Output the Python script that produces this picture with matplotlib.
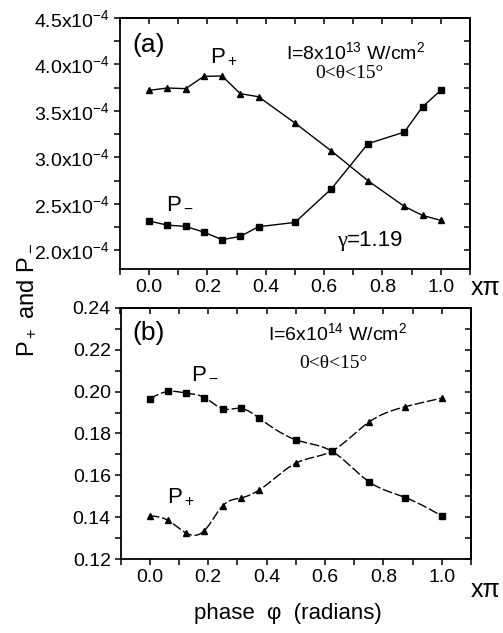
import numpy as np
import matplotlib
matplotlib.use("Agg")
import matplotlib.pyplot as plt
from matplotlib.ticker import MultipleLocator, FuncFormatter

plt.rcParams['font.family'] = ['Liberation Sans', 'DejaVu Sans']
plt.rcParams['mathtext.fontset'] = 'custom'
plt.rcParams['mathtext.rm'] = 'Liberation Sans'
plt.rcParams['mathtext.it'] = 'Liberation Sans:italic'
plt.rcParams['mathtext.bf'] = 'Liberation Sans:bold'

# ---- data (phase in units of pi) ----
phase_a = [0, 1/16, 2/16, 3/16, 4/16, 5/16, 6/16, 8/16, 10/16, 12/16, 14/16, 15/16, 1.0]
pplus_a = [3.722, 3.747, 3.740, 3.872, 3.876, 3.686, 3.653, 3.370, 3.069, 2.750, 2.473, 2.376, 2.323]  # x1e-4
pminus_a = [2.316, 2.272, 2.258, 2.197, 2.115, 2.151, 2.255, 2.301, 2.663, 3.148, 3.273, 3.546, 3.722]  # x1e-4

phase_b = [0, 1/16, 2/16, 3/16, 4/16, 5/16, 6/16, 8/16, 10/16, 12/16, 14/16, 1.0]
pminus_b = [0.1966, 0.2001, 0.1993, 0.1972, 0.1918, 0.1920, 0.1873, 0.1770, 0.1714, 0.1570, 0.1494, 0.1406]
pplus_b = [0.1407, 0.1385, 0.1324, 0.1336, 0.1455, 0.1492, 0.1530, 0.1658, 0.1717, 0.1854, 0.1928, 0.1969]


def natural_spline(x, y, n=500):
    x = np.asarray(x, float)
    y = np.asarray(y, float)
    k = len(x)
    h = np.diff(x)
    A = np.zeros((k, k))
    r = np.zeros(k)
    A[0, 0] = 1
    A[-1, -1] = 1
    for i in range(1, k - 1):
        A[i, i - 1] = h[i - 1]
        A[i, i] = 2 * (h[i - 1] + h[i])
        A[i, i + 1] = h[i]
        r[i] = 6 * ((y[i + 1] - y[i]) / h[i] - (y[i] - y[i - 1]) / h[i - 1])
    M = np.linalg.solve(A, r)
    xs = np.linspace(x[0], x[-1], n)
    idx = np.clip(np.searchsorted(x, xs) - 1, 0, k - 2)
    x0, x1 = x[idx], x[idx + 1]
    hh = x1 - x0
    a = (x1 - xs) / hh
    b = (xs - x0) / hh
    ys = (a * y[idx] + b * y[idx + 1]
          + ((a ** 3 - a) * M[idx] + (b ** 3 - b) * M[idx + 1]) * hh ** 2 / 6)
    return xs, ys


W, H = 503, 633
fig = plt.figure(figsize=(W / 100, H / 100), dpi=100)


def fx(px):
    return px / W


def fy(py):
    return 1 - py / H


ax1 = fig.add_axes([fx(120), fy(269), fx(470) - fx(120), fy(18) - fy(269)])
ax2 = fig.add_axes([fx(120.5), fy(559), fx(471) - fx(120.5), fy(308) - fy(559)])

TICK_FS = 14


def style_axis(ax, ymajor, yminor, fmt):
    for s in ax.spines.values():
        s.set_linewidth(1.3)
    ax.set_xlim(-0.1, 1.1)
    ax.xaxis.set_major_locator(MultipleLocator(0.2))
    ax.xaxis.set_minor_locator(MultipleLocator(0.1))
    ax.xaxis.set_major_formatter(FuncFormatter(lambda v, p: f"{v:.1f}"))
    ax.yaxis.set_major_locator(MultipleLocator(ymajor))
    ax.yaxis.set_minor_locator(MultipleLocator(yminor))
    ax.yaxis.set_major_formatter(FuncFormatter(fmt))
    ax.tick_params(which='both', direction='out', length=4, width=1.1,
                   top=False, right=False, labelsize=TICK_FS, pad=3)
    sx = ax.secondary_xaxis('top')
    sx.xaxis.set_major_locator(MultipleLocator(0.1))
    sx.tick_params(which='both', direction='in', length=4, width=1.1, labeltop=False)
    sx.xaxis.set_minor_locator(MultipleLocator(0.1))
    sy = ax.secondary_yaxis('right')
    sy.yaxis.set_major_locator(MultipleLocator(yminor))
    sy.tick_params(which='both', direction='in', length=4, width=1.1, labelright=False)
    for s in list(sx.spines.values()) + list(sy.spines.values()):
        s.set_linewidth(1.3)


# ---- panel (a) ----
ax1.set_ylim(1.80, 4.5)
style_axis(ax1, 0.5, 0.25, lambda v, p: f"{v:.1f}x10$^{{-4}}$")
ax1.plot(phase_a, pplus_a, '-', color='black', lw=1.0, marker='^', ms=5)
ax1.plot(phase_a, pminus_a, '-', color='black', lw=1.0, marker='s', ms=4)

# ---- panel (b) ----
ax2.set_ylim(0.12, 0.24)
style_axis(ax2, 0.02, 0.01, lambda v, p: f"{v:.2f}")
xs, ys = natural_spline(phase_b, pminus_b)
ax2.plot(xs, ys, color='black', lw=1.0, dashes=(7, 2))
ax2.plot(phase_b, pminus_b, 's', color='black', ms=4)
xs, ys = natural_spline(phase_b, pplus_b)
ax2.plot(xs, ys, color='black', lw=1.0, dashes=(7, 2))
ax2.plot(phase_b, pplus_b, '^', color='black', ms=5)

# ---- annotations ----
fig.text(fx(132), fy(45), "(a)", fontsize=19, va='center', ha='left')
fig.text(fx(210), fy(57), "P$_+$", fontsize=16, va='center', ha='left')
fig.text(fx(166), fy(203), "P$_-$", fontsize=16, va='center', ha='left')
fig.text(fx(356), fy(52), "I=8x10$^{13}$ W/cm$^{2}$", fontsize=14, va='center', ha='center')
fig.text(fx(349), fy(73), "0<θ<15°", fontsize=14, va='center', ha='center',
         family=['Liberation Serif', 'DejaVu Serif'])
fig.text(fx(347), fy(246), "γ", fontsize=16, va='baseline', ha='right',
         family=['Liberation Serif', 'DejaVu Serif'])
fig.text(fx(347), fy(246), "=1.19", fontsize=16, va='baseline', ha='left')

fig.text(fx(132), fy(333), "(b)", fontsize=19, va='center', ha='left')
fig.text(fx(338), fy(333), "I=6x10$^{14}$ W/cm$^{2}$", fontsize=14, va='center', ha='center')
fig.text(fx(333), fy(364), "0<θ<15°", fontsize=14, va='center', ha='center',
         family=['Liberation Serif', 'DejaVu Serif'])
fig.text(fx(191), fy(372), "P$_-$", fontsize=16, va='center', ha='left')
fig.text(fx(167), fy(497), "P$_+$", fontsize=16, va='center', ha='left')

fig.text(fx(471), fy(288), "xπ", fontsize=18, va='center', ha='left')
fig.text(fx(471), fy(590), "xπ", fontsize=18, va='center', ha='left')

fig.text(fx(27), fy(300), "P$_+$ and P$_-$", fontsize=17, rotation=90, va='center', ha='center')
fig.text(fx(288), fy(613), "phase  φ  (radians)", fontsize=16, va='center', ha='center')

fig.savefig("out.png", dpi=100)
